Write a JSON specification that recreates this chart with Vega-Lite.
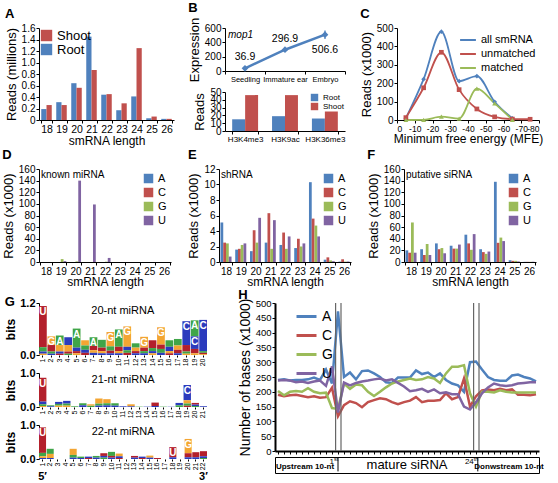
{
"$schema": "https://vega.github.io/schema/vega-lite/v6.json",
"padding": {"left": 2, "right": 2, "top": 2, "bottom": 0},
"background": "white",
"spacing": 2,
"resolve": {"scale": {"x": "independent", "y": "independent", "color": "independent", "shape": "independent", "xOffset": "independent"}, "legend": {"color": "independent", "shape": "independent"}, "axis": {"x": "independent", "y": "independent"}},
"config": {
  "font": "Liberation Sans",
  "view": {"stroke": null},
  "axis": {"grid": false, "domainColor": "#000", "tickColor": "#000", "labelColor": "#000", "titleColor": "#000", "labelFont": "Liberation Sans", "titleFont": "Liberation Sans", "labelFontSize": 10, "titleFontSize": 12, "titleFontWeight": "normal", "tickSize": 3, "labelPadding": 1, "titlePadding": 3, "labelOverlap": false},
  "legend": {"labelFont": "Liberation Sans", "labelColor": "#000", "labelFontSize": 11, "padding": 0, "rowPadding": 1, "symbolType": "square", "title": null},
  "title": {"fontSize": 13, "fontWeight": "bold", "anchor": "start", "frame": "bounds", "color": "#000", "offset": 2, "font": "Liberation Sans"}
},
"datasets": {
  "a": [
    {"len":18,"t":"Root","v":0.19},{"len":18,"t":"Shoot","v":0.26},
    {"len":19,"t":"Root","v":0.31},{"len":19,"t":"Shoot","v":0.26},
    {"len":20,"t":"Root","v":0.64},{"len":20,"t":"Shoot","v":0.56},
    {"len":21,"t":"Root","v":1.45},{"len":21,"t":"Shoot","v":0.87},
    {"len":22,"t":"Root","v":0.44},{"len":22,"t":"Shoot","v":0.45},
    {"len":23,"t":"Root","v":0.17},{"len":23,"t":"Shoot","v":0.29},
    {"len":24,"t":"Root","v":0.41},{"len":24,"t":"Shoot","v":1.25},
    {"len":25,"t":"Root","v":0.03},{"len":25,"t":"Shoot","v":0.06},
    {"len":26,"t":"Root","v":0.02},{"len":26,"t":"Shoot","v":0.02}
  ],
  "expr": [
    {"stage":"Seedling","v":36.9,"lo":28,"hi":46},
    {"stage":"Immature ear","v":296.9,"lo":276,"hi":318},
    {"stage":"Embryo","v":506.6,"lo":448,"hi":565}
  ],
  "hist": [
    {"m":"H3K4me3","t":"Root","v":15},{"m":"H3K4me3","t":"Shoot","v":46},
    {"m":"H3K9ac","t":"Root","v":19},{"m":"H3K9ac","t":"Shoot","v":46},
    {"m":"H3K36me3","t":"Root","v":16},{"m":"H3K36me3","t":"Shoot","v":25}
  ],
  "mfe": [
    {"e":-5,"s":"all smRNA","v":9},{"e":-15,"s":"all smRNA","v":222},{"e":-25,"s":"all smRNA","v":480},{"e":-35,"s":"all smRNA","v":211},{"e":-45,"s":"all smRNA","v":238},{"e":-55,"s":"all smRNA","v":99},{"e":-65,"s":"all smRNA","v":9},
    {"e":-5,"s":"unmatched","v":13},{"e":-15,"s":"unmatched","v":175},{"e":-25,"s":"unmatched","v":368},{"e":-35,"s":"unmatched","v":165},{"e":-45,"s":"unmatched","v":60},{"e":-55,"s":"unmatched","v":17},{"e":-65,"s":"unmatched","v":5},{"e":-75,"s":"unmatched","v":4},
    {"e":-5,"s":"matched","v":0},{"e":-15,"s":"matched","v":1},{"e":-25,"s":"matched","v":18},{"e":-35,"s":"matched","v":8},{"e":-45,"s":"matched","v":170},{"e":-55,"s":"matched","v":90},{"e":-65,"s":"matched","v":1}
  ],
  "d": [
    {"len":18,"A":0,"C":0,"G":0,"U":0},{"len":19,"A":0,"C":0,"G":5,"U":1.5},{"len":20,"A":0,"C":0,"G":1,"U":140},
    {"len":21,"A":0,"C":0,"G":0,"U":99},{"len":22,"A":0,"C":0,"G":0.5,"U":7},{"len":23,"A":0,"C":0,"G":0,"U":0},
    {"len":24,"A":0,"C":0,"G":0,"U":0},{"len":25,"A":0,"C":0,"G":0,"U":0},{"len":26,"A":0,"C":0,"G":0,"U":0}
  ],
  "e": [
    {"len":18,"A":5.1,"C":2.5,"G":2.4,"U":0.7},{"len":19,"A":1.6,"C":1.7,"G":2.2,"U":2.4},{"len":20,"A":1.4,"C":4.1,"G":2.5,"U":5.7},
    {"len":21,"A":2.5,"C":6.3,"G":1.7,"U":5.4},{"len":22,"A":2.2,"C":3.8,"G":1.7,"U":3.3},{"len":23,"A":1.8,"C":3.0,"G":2.0,"U":2.4},
    {"len":24,"A":10.3,"C":5.6,"G":4.7,"U":3.3},{"len":25,"A":0.3,"C":0.6,"G":0.2,"U":0.1},{"len":26,"A":0.05,"C":0.35,"G":0.05,"U":0.05}
  ],
  "f": [
    {"len":18,"A":20,"C":16,"G":68,"U":16},{"len":19,"A":22,"C":12,"G":31,"U":12},{"len":20,"A":32,"C":22,"G":24,"U":15},
    {"len":21,"A":28,"C":23,"G":23,"U":30},{"len":22,"A":47,"C":32,"G":21,"U":48},{"len":23,"A":22,"C":17,"G":14,"U":18},
    {"len":24,"A":138,"C":33,"G":42,"U":36},{"len":25,"A":3,"C":2,"G":2,"U":1},{"len":26,"A":0.3,"C":0.3,"G":0.3,"U":0.3}
  ],
  "g20": [
    {"p":1,"b":"U","h":0.95},{"p":1,"b":"A","h":0.1},{"p":1,"b":"C","h":0.05},{"p":1,"b":"G","h":0.03},
    {"p":2,"b":"G","h":0.2},{"p":2,"b":"U","h":0.15},{"p":2,"b":"A","h":0.05},{"p":2,"b":"C","h":0.03},
    {"p":3,"b":"A","h":0.22},{"p":3,"b":"G","h":0.15},{"p":3,"b":"C","h":0.05},{"p":3,"b":"U","h":0.03},
    {"p":4,"b":"C","h":0.18},{"p":4,"b":"G","h":0.15},{"p":4,"b":"U","h":0.05},{"p":4,"b":"A","h":0.03},
    {"p":5,"b":"A","h":0.44},{"p":5,"b":"C","h":0.08},{"p":5,"b":"U","h":0.05},{"p":5,"b":"G","h":0.04},
    {"p":6,"b":"G","h":0.12},{"p":6,"b":"A","h":0.1},{"p":6,"b":"C","h":0.07},{"p":6,"b":"U","h":0.05},
    {"p":7,"b":"A","h":0.2},{"p":7,"b":"U","h":0.1},{"p":7,"b":"G","h":0.06},{"p":7,"b":"C","h":0.05},
    {"p":8,"b":"A","h":0.18},{"p":8,"b":"U","h":0.08},{"p":8,"b":"G","h":0.05},{"p":8,"b":"C","h":0.04},
    {"p":9,"b":"G","h":0.33},{"p":9,"b":"A","h":0.1},{"p":9,"b":"U","h":0.06},{"p":9,"b":"C","h":0.04},
    {"p":10,"b":"A","h":0.4},{"p":10,"b":"U","h":0.1},{"p":10,"b":"G","h":0.05},{"p":10,"b":"C","h":0.04},
    {"p":11,"b":"G","h":0.47},{"p":11,"b":"C","h":0.08},{"p":11,"b":"A","h":0.06},{"p":11,"b":"U","h":0.05},
    {"p":12,"b":"A","h":0.1},{"p":12,"b":"G","h":0.08},{"p":12,"b":"U","h":0.05},{"p":12,"b":"C","h":0.04},
    {"p":13,"b":"G","h":0.25},{"p":13,"b":"U","h":0.08},{"p":13,"b":"A","h":0.05},{"p":13,"b":"C","h":0.04},
    {"p":14,"b":"U","h":0.18},{"p":14,"b":"A","h":0.07},{"p":14,"b":"C","h":0.05},{"p":14,"b":"G","h":0.04},
    {"p":15,"b":"G","h":0.4},{"p":15,"b":"U","h":0.1},{"p":15,"b":"A","h":0.09},{"p":15,"b":"C","h":0.05},
    {"p":16,"b":"A","h":0.15},{"p":16,"b":"C","h":0.1},{"p":16,"b":"G","h":0.05},{"p":16,"b":"U","h":0.04},
    {"p":17,"b":"A","h":0.15},{"p":17,"b":"G","h":0.1},{"p":17,"b":"U","h":0.08},{"p":17,"b":"C","h":0.04},
    {"p":18,"b":"C","h":0.55},{"p":18,"b":"U","h":0.15},{"p":18,"b":"A","h":0.05},{"p":18,"b":"G","h":0.03},
    {"p":19,"b":"A","h":0.37},{"p":19,"b":"C","h":0.29},{"p":19,"b":"U","h":0.1},{"p":19,"b":"G","h":0.04},
    {"p":20,"b":"C","h":0.72},{"p":20,"b":"A","h":0.04},{"p":20,"b":"U","h":0.03},{"p":20,"b":"G","h":0.02}
  ],
  "g21": [
    {"p":1,"b":"U","h":0.7},{"p":1,"b":"C","h":0.08},{"p":1,"b":"A","h":0.05},{"p":1,"b":"G","h":0.03},
    {"p":2,"b":"A","h":0.03},{"p":2,"b":"C","h":0.02},
    {"p":3,"b":"C","h":0.06},{"p":3,"b":"A","h":0.05},{"p":3,"b":"G","h":0.04},
    {"p":4,"b":"C","h":0.08},{"p":4,"b":"A","h":0.06},{"p":4,"b":"G","h":0.04},
    {"p":5,"b":"A","h":0.02},
    {"p":6,"b":"A","h":0.06},{"p":6,"b":"C","h":0.05},
    {"p":7,"b":"A","h":0.04},{"p":7,"b":"G","h":0.04},
    {"p":8,"b":"G","h":0.15},{"p":8,"b":"A","h":0.06},{"p":8,"b":"C","h":0.04},
    {"p":9,"b":"G","h":0.12},{"p":9,"b":"A","h":0.06},{"p":9,"b":"C","h":0.05},
    {"p":10,"b":"A","h":0.07},{"p":10,"b":"C","h":0.04},
    {"p":11,"b":"C","h":0.02},
    {"p":12,"b":"G","h":0.06},{"p":12,"b":"C","h":0.02},
    {"p":13,"b":"A","h":0.01},
    {"p":14,"b":"C","h":0.01},
    {"p":15,"b":"U","h":0.1},{"p":15,"b":"C","h":0.03},
    {"p":16,"b":"A","h":0.01},
    {"p":17,"b":"C","h":0.01},
    {"p":18,"b":"C","h":0.07},{"p":18,"b":"A","h":0.05},
    {"p":19,"b":"C","h":0.45},{"p":19,"b":"G","h":0.1},{"p":19,"b":"A","h":0.06},{"p":19,"b":"U","h":0.04},
    {"p":20,"b":"U","h":0.05},{"p":20,"b":"C","h":0.04},{"p":20,"b":"A","h":0.03},
    {"p":21,"b":"C","h":0.02}
  ],
  "g22": [
    {"p":1,"b":"U","h":0.75},{"p":1,"b":"A","h":0.1},{"p":1,"b":"G","h":0.05},{"p":1,"b":"C","h":0.03},
    {"p":2,"b":"A","h":0.15},{"p":2,"b":"G","h":0.12},{"p":2,"b":"C","h":0.03},
    {"p":5,"b":"G","h":0.18},{"p":5,"b":"A","h":0.08},{"p":5,"b":"C","h":0.04},
    {"p":6,"b":"A","h":0.04},{"p":6,"b":"C","h":0.03},
    {"p":7,"b":"C","h":0.04},{"p":7,"b":"U","h":0.03},
    {"p":8,"b":"A","h":0.05},{"p":8,"b":"C","h":0.04},
    {"p":9,"b":"U","h":0.08},{"p":9,"b":"C","h":0.05},{"p":9,"b":"A","h":0.04},
    {"p":10,"b":"A","h":0.12},{"p":10,"b":"U","h":0.05},{"p":10,"b":"C","h":0.04},
    {"p":11,"b":"G","h":0.08},{"p":11,"b":"C","h":0.05},{"p":11,"b":"U","h":0.03},
    {"p":13,"b":"U","h":0.05},{"p":13,"b":"C","h":0.04},
    {"p":14,"b":"C","h":0.04},{"p":14,"b":"U","h":0.03},
    {"p":15,"b":"G","h":0.06},{"p":15,"b":"C","h":0.04},
    {"p":16,"b":"U","h":0.03},
    {"p":18,"b":"U","h":0.3},{"p":18,"b":"C","h":0.05},
    {"p":20,"b":"G","h":0.42},{"p":20,"b":"U","h":0.12},{"p":20,"b":"C","h":0.05},
    {"p":21,"b":"U","h":0.15},{"p":21,"b":"C","h":0.05},
    {"p":22,"b":"U","h":0.15},{"p":22,"b":"C","h":0.05},{"p":22,"b":"A","h":0.03}
  ],
  "h": [
    {"i":1,"A":240,"C":190,"G":203,"U":238},{"i":2,"A":242,"C":185,"G":188,"U":240},{"i":3,"A":238,"C":188,"G":200,"U":238},
    {"i":4,"A":240,"C":190,"G":203,"U":232},{"i":5,"A":240,"C":186,"G":200,"U":235},{"i":6,"A":242,"C":182,"G":212,"U":230},
    {"i":7,"A":248,"C":185,"G":200,"U":235},{"i":8,"A":240,"C":180,"G":195,"U":238},{"i":9,"A":275,"C":182,"G":197,"U":220},
    {"i":10,"A":228,"C":214,"G":145,"U":286},{"i":11,"A":472,"C":118,"G":142,"U":130},{"i":12,"A":250,"C":155,"G":228,"U":231},
    {"i":13,"A":265,"C":168,"G":210,"U":222},{"i":14,"A":242,"C":162,"G":225,"U":230},{"i":15,"A":270,"C":148,"G":222,"U":235},
    {"i":16,"A":272,"C":165,"G":200,"U":238},{"i":17,"A":262,"C":172,"G":186,"U":242},{"i":18,"A":250,"C":178,"G":200,"U":245},
    {"i":19,"A":232,"C":175,"G":215,"U":238},{"i":20,"A":230,"C":165,"G":228,"U":242},{"i":21,"A":248,"C":158,"G":235,"U":230},
    {"i":22,"A":248,"C":165,"G":240,"U":218},{"i":23,"A":248,"C":170,"G":245,"U":202},{"i":24,"A":272,"C":182,"G":240,"U":205},
    {"i":25,"A":260,"C":165,"G":242,"U":210},{"i":26,"A":265,"C":170,"G":250,"U":200},{"i":27,"A":250,"C":170,"G":245,"U":208},
    {"i":28,"A":262,"C":172,"G":230,"U":195},{"i":29,"A":240,"C":195,"G":262,"U":198},{"i":30,"A":228,"C":175,"G":285,"U":192},
    {"i":31,"A":222,"C":182,"G":285,"U":192},{"i":32,"A":200,"C":245,"G":290,"U":150},{"i":33,"A":300,"C":150,"G":195,"U":140},
    {"i":34,"A":302,"C":185,"G":150,"U":165},{"i":35,"A":275,"C":205,"G":200,"U":195},{"i":36,"A":250,"C":208,"G":200,"U":215},
    {"i":37,"A":240,"C":205,"G":198,"U":228},{"i":38,"A":237,"C":210,"G":205,"U":222},{"i":39,"A":237,"C":205,"G":200,"U":220},
    {"i":40,"A":255,"C":208,"G":198,"U":222},{"i":41,"A":258,"C":190,"G":198,"U":228},{"i":42,"A":250,"C":190,"G":198,"U":230},
    {"i":43,"A":245,"C":188,"G":198,"U":232},{"i":44,"A":235,"C":192,"G":198,"U":232}
  ]
},
"vconcat": [
  {"spacing": 14,
   "resolve": {"scale": {"x": "independent", "y": "independent", "color": "independent", "shape": "independent", "xOffset": "independent"}, "legend": {"color": "independent", "shape": "independent"}, "axis": {"x": "independent", "y": "independent"}},
   "hconcat": [
    {
      "title": {"text": "A"},
      "width": 135, "height": 92,
      "data": {"name": "a"},
      "mark": {"type": "bar"},
      "encoding": {
        "x": {"field": "len", "type": "ordinal", "scale": {"paddingInner": 0.3, "paddingOuter": 0.15}, "axis": {"title": "smRNA length", "labelAngle": 0, "tickBand": "extent", "labelFontSize": 10.5, "titlePadding": 1}},
        "xOffset": {"field": "t", "type": "nominal", "sort": ["Root", "Shoot"]},
        "y": {"field": "v", "type": "quantitative", "scale": {"domain": [0, 1.6]}, "axis": {"values": [0,0.2,0.4,0.6,0.8,1,1.2,1.4,1.6], "labelExpr": "datum.value == 0 ? '0' : format(datum.value, '.1f')", "title": "Reads (millions)", "titleFontSize": 13}},
        "color": {"field": "t", "type": "nominal", "scale": {"domain": ["Shoot", "Root"], "range": ["#C0504D", "#4F81BD"]}, "legend": {"orient": "top-left", "labelFontSize": 13, "symbolSize": 130, "offset": 1, "rowPadding": 0}}
      }
    },
    {
      "title": {"text": "B"},
      "spacing": 4,
      "resolve": {"scale": {"x": "independent", "y": "independent", "color": "independent", "xOffset": "independent"}, "legend": {"color": "independent"}, "axis": {"x": "independent", "y": "independent"}},
      "vconcat": [
        {
          "width": 120, "height": 43,
          "data": {"name": "expr"},
          "encoding": {
            "x": {"field": "stage", "type": "nominal", "sort": ["Seedling", "Immature ear", "Embryo"], "scale": {"type": "band", "paddingInner": 0, "paddingOuter": 0}, "bandPosition": 0.5, "axis": {"title": null, "labelAngle": 0, "labelFontSize": 7.5, "tickBand": "extent"}}
          },
          "layer": [
            {"mark": {"type": "rule", "color": "#4F81BD", "strokeWidth": 1.3}, "encoding": {"y": {"field": "lo", "type": "quantitative", "scale": {"domain": [0, 600]}, "axis": {"values": [0,200,400,600], "title": "Expression", "titleFontSize": 13}}, "y2": {"field": "hi"}}},
            {"mark": {"type": "line", "color": "#4F81BD", "strokeWidth": 2.5, "point": {"shape": "diamond", "filled": true, "size": 45, "color": "#4F81BD"}}, "encoding": {"y": {"field": "v", "type": "quantitative", "axis": {"values": [0,200,400,600], "title": "Expression", "titleFontSize": 13}}}},
            {"transform": [{"filter": "datum.stage != 'Embryo'"}], "mark": {"type": "text", "dy": -11, "fontSize": 10.5}, "encoding": {"y": {"field": "v", "type": "quantitative", "axis": {"values": [0,200,400,600], "title": "Expression", "titleFontSize": 13}}, "text": {"field": "v", "type": "quantitative", "format": ".1f"}}},
            {"transform": [{"filter": "datum.stage == 'Embryo'"}], "mark": {"type": "text", "dy": 15, "fontSize": 10.5}, "encoding": {"y": {"field": "v", "type": "quantitative", "axis": {"values": [0,200,400,600], "title": "Expression", "titleFontSize": 13}}, "text": {"field": "v", "type": "quantitative", "format": ".1f"}}},
            {"data": {"values": [{"lab": "mop1"}]}, "mark": {"type": "text", "align": "left", "baseline": "top", "fontStyle": "italic", "fontSize": 10, "dx": -17, "dy": 2}, "encoding": {"x": {"datum": "Seedling", "type": "nominal"}, "y": {"datum": 600, "type": "quantitative", "axis": {"values": [0,200,400,600], "title": "Expression", "titleFontSize": 13}}, "text": {"field": "lab"}}}
          ]
        },
        {
          "width": 120, "height": 39,
          "data": {"name": "hist"},
          "mark": {"type": "bar"},
          "encoding": {
            "x": {"field": "m", "type": "nominal", "sort": ["H3K4me3", "H3K9ac", "H3K36me3"], "scale": {"paddingInner": 0.35, "paddingOuter": 0.18}, "axis": {"title": null, "labelAngle": 0, "labelFontSize": 8, "tickBand": "extent"}},
            "xOffset": {"field": "t", "type": "nominal", "sort": ["Root", "Shoot"]},
            "y": {"field": "v", "type": "quantitative", "scale": {"domain": [0, 50]}, "axis": {"values": [0,10,20,30,40,50], "title": "Reads", "titleFontSize": 13}},
            "color": {"field": "t", "type": "nominal", "scale": {"domain": ["Root", "Shoot"], "range": ["#4F81BD", "#C0504D"]}, "legend": {"orient": "top-right", "labelFontSize": 8, "symbolSize": 55, "offset": 1, "rowPadding": 0}}
          }
        }
      ]
    },
    {
      "title": {"text": "C"},
      "width": 142, "height": 92,
      "data": {"name": "mfe"},
      "encoding": {
        "x": {"field": "e", "type": "quantitative", "scale": {"domain": [0, -80], "nice": false}, "axis": {"values": [0,-10,-20,-30,-40,-50,-60,-70,-80], "labelExpr": "datum.value == 0 ? '0' : '-' + abs(datum.value)", "title": "Minimum free energy (MFE)", "labelFontSize": 8.5, "titlePadding": 1}},
        "y": {"field": "v", "type": "quantitative", "scale": {"domain": [0, 500]}, "axis": {"values": [0,100,200,300,400,500], "title": "Reads (x1000)", "titleFontSize": 13}}
      },
      "layer": [
        {"mark": {"type": "line", "interpolate": "monotone", "strokeWidth": 1.8},
         "encoding": {"order": {"field": "e", "sort": "descending"},
           "color": {"field": "s", "type": "nominal", "scale": {"domain": ["all smRNA", "unmatched", "matched"], "range": ["#4F81BD", "#C0504D", "#9BBB59"]}, "legend": {"orient": "top-right", "symbolType": "stroke", "symbolStrokeWidth": 2, "symbolSize": 250, "labelFontSize": 11, "offset": 3, "rowPadding": 0}}}},
        {"transform": [{"filter": "datum.s == 'all smRNA'"}], "mark": {"type": "point", "filled": true, "size": 22, "opacity": 1, "shape": "diamond", "color": "#4F81BD"}},
        {"transform": [{"filter": "datum.s == 'unmatched'"}], "mark": {"type": "point", "filled": true, "size": 22, "opacity": 1, "shape": "square", "color": "#C0504D"}},
        {"transform": [{"filter": "datum.s == 'matched'"}], "mark": {"type": "point", "filled": true, "size": 24, "opacity": 1, "shape": "triangle-up", "color": "#9BBB59"}}
      ]
    }
  ]},
  {"spacing": 16,
   "resolve": {"scale": {"x": "independent", "y": "independent", "color": "independent", "xOffset": "independent"}, "legend": {"color": "independent"}, "axis": {"x": "independent", "y": "independent"}},
   "hconcat": [
    {
      "title": {"text": "D"},
      "width": 132, "height": 93,
      "layer": [
        {"data": {"name": "d"}, "transform": [{"fold": ["A", "C", "G", "U"], "as": ["b", "v"]}], "mark": {"type": "bar"},
         "encoding": {
           "x": {"field": "len", "type": "ordinal", "scale": {"paddingInner": 0.25, "paddingOuter": 0.1}, "axis": {"title": "smRNA length", "labelAngle": 0, "tickBand": "extent", "labelFontSize": 10, "titlePadding": 0}},
           "xOffset": {"field": "b", "type": "nominal", "sort": ["A", "C", "G", "U"]},
           "y": {"field": "v", "type": "quantitative", "scale": {"domain": [0, 160]}, "axis": {"values": [0,20,40,60,80,100,120,140,160], "title": "Reads (x1000)", "titleFontSize": 13}},
           "color": {"field": "b", "type": "nominal", "scale": {"domain": ["A", "C", "G", "U"], "range": ["#4F81BD", "#C0504D", "#9BBB59", "#8064A2"]}, "legend": {"orient": "top-right", "labelFontSize": 11, "symbolSize": 90, "offset": 4, "rowPadding": 2}}
         }},
        {"data": {"values": [{"lab": "known miRNA"}]}, "mark": {"type": "text", "align": "left", "baseline": "top", "fontSize": 10, "dx": -5, "dy": 1}, "encoding": {"x": {"datum": 18, "type": "ordinal"}, "y": {"datum": 160, "type": "quantitative", "axis": {"values": [0,20,40,60,80,100,120,140,160], "title": "Reads (x1000)", "titleFontSize": 13}}, "text": {"field": "lab"}}}
      ]
    },
    {
      "title": {"text": "E"},
      "width": 132, "height": 93,
      "layer": [
        {"data": {"name": "e"}, "transform": [{"fold": ["A", "C", "G", "U"], "as": ["b", "v"]}], "mark": {"type": "bar"},
         "encoding": {
           "x": {"field": "len", "type": "ordinal", "scale": {"paddingInner": 0.25, "paddingOuter": 0.1}, "axis": {"title": "smRNA length", "labelAngle": 0, "tickBand": "extent", "labelFontSize": 10, "titlePadding": 0}},
           "xOffset": {"field": "b", "type": "nominal", "sort": ["A", "C", "G", "U"]},
           "y": {"field": "v", "type": "quantitative", "scale": {"domain": [0, 12]}, "axis": {"values": [0,2,4,6,8,10,12], "title": "Reads (x1000)", "titleFontSize": 13}},
           "color": {"field": "b", "type": "nominal", "scale": {"domain": ["A", "C", "G", "U"], "range": ["#4F81BD", "#C0504D", "#9BBB59", "#8064A2"]}, "legend": {"orient": "top-right", "labelFontSize": 11, "symbolSize": 90, "offset": 4, "rowPadding": 2}}
         }},
        {"data": {"values": [{"lab": "shRNA"}]}, "mark": {"type": "text", "align": "left", "baseline": "top", "fontSize": 10, "dx": -5, "dy": 1}, "encoding": {"x": {"datum": 18, "type": "ordinal"}, "y": {"datum": 12, "type": "quantitative", "axis": {"values": [0,2,4,6,8,10,12], "title": "Reads (x1000)", "titleFontSize": 13}}, "text": {"field": "lab"}}}
      ]
    },
    {
      "title": {"text": "F"},
      "width": 132, "height": 93,
      "layer": [
        {"data": {"name": "f"}, "transform": [{"fold": ["A", "C", "G", "U"], "as": ["b", "v"]}], "mark": {"type": "bar"},
         "encoding": {
           "x": {"field": "len", "type": "ordinal", "scale": {"paddingInner": 0.25, "paddingOuter": 0.1}, "axis": {"title": "smRNA length", "labelAngle": 0, "tickBand": "extent", "labelFontSize": 10, "titlePadding": 0}},
           "xOffset": {"field": "b", "type": "nominal", "sort": ["A", "C", "G", "U"]},
           "y": {"field": "v", "type": "quantitative", "scale": {"domain": [0, 160]}, "axis": {"values": [0,20,40,60,80,100,120,140,160], "title": "Reads (x1000)", "titleFontSize": 13}},
           "color": {"field": "b", "type": "nominal", "scale": {"domain": ["A", "C", "G", "U"], "range": ["#4F81BD", "#C0504D", "#9BBB59", "#8064A2"]}, "legend": {"orient": "top-right", "labelFontSize": 11, "symbolSize": 90, "offset": 4, "rowPadding": 2}}
         }},
        {"data": {"values": [{"lab": "putative siRNA"}]}, "mark": {"type": "text", "align": "left", "baseline": "top", "fontSize": 10, "dx": -5, "dy": 1}, "encoding": {"x": {"datum": 18, "type": "ordinal"}, "y": {"datum": 160, "type": "quantitative", "axis": {"values": [0,20,40,60,80,100,120,140,160], "title": "Reads (x1000)", "titleFontSize": 13}}, "text": {"field": "lab"}}}
      ]
    }
  ]},
  {"spacing": 30,
   "resolve": {"scale": {"x": "independent", "y": "independent", "color": "independent"}, "legend": {"color": "independent"}, "axis": {"x": "independent", "y": "independent"}},
   "hconcat": [
    {
      "title": {"text": "G", "offset": -12},
      "spacing": 1,
      "resolve": {"scale": {"x": "independent", "y": "independent"}, "axis": {"x": "independent", "y": "independent"}},
      "vconcat": [
        {
          "width": 168, "height": 52,
          "layer": [
            {"data": {"name": "g20"}, "transform": [{"stack": "h", "groupby": ["p"], "sort": [{"field": "h", "order": "ascending"}], "as": ["y0", "y1"]}],
             "mark": {"type": "bar"},
             "encoding": {
               "x": {"field": "p", "type": "ordinal", "scale": {"domain": [1,2,3,4,5,6,7,8,9,10,11,12,13,14,15,16,17,18,19,20], "paddingInner": 0.08, "paddingOuter": 0}, "axis": {"title": null, "labelAngle": -90, "labelAlign": "right", "labelBaseline": "middle", "labelFontSize": 7, "domain": false, "tickSize": 2, "labelPadding": 1}},
               "y": {"field": "y0", "type": "quantitative", "scale": {"domain": [0, 1.2]}, "axis": {"values": [0, 1.2], "title": "bits", "titleFontWeight": "bold", "labelFontWeight": "bold", "labelFontSize": 11, "titlePadding": 2}},
               "y2": {"field": "y1"},
               "color": {"field": "b", "type": "nominal", "scale": {"domain": ["A", "C", "G", "U"], "range": ["#3FA548", "#2B3BBD", "#F3A532", "#B3202C"]}, "legend": null}
             }},
            {"data": {"name": "g20"}, "transform": [{"stack": "h", "groupby": ["p"], "sort": [{"field": "h", "order": "ascending"}], "as": ["y0", "y1"]}, {"filter": "datum.h >= 0.2"}],
             "mark": {"type": "text", "baseline": "top", "dy": 1, "fontSize": 10, "fontWeight": "bold", "color": "white"},
             "encoding": {"x": {"field": "p", "type": "ordinal"}, "y": {"field": "y1", "type": "quantitative", "axis": {"values": [0, 1.2], "title": "bits", "titleFontWeight": "bold", "labelFontWeight": "bold", "labelFontSize": 11, "titlePadding": 2}}, "text": {"field": "b"}}},
            {"data": {"values": [{"p": 10, "t": "20-nt miRNA"}]},
             "mark": {"type": "text", "baseline": "top", "dy": 2, "dx": 4, "fontSize": 11},
             "encoding": {"x": {"field": "p", "type": "ordinal"}, "y": {"datum": 1.2, "type": "quantitative", "axis": {"values": [0, 1.2], "title": "bits", "titleFontWeight": "bold", "labelFontWeight": "bold", "labelFontSize": 11, "titlePadding": 2}}, "text": {"field": "t"}}}
          ]
        },
        {
          "width": 168, "height": 34,
          "layer": [
            {"data": {"name": "g21"}, "transform": [{"stack": "h", "groupby": ["p"], "sort": [{"field": "h", "order": "ascending"}], "as": ["y0", "y1"]}],
             "mark": {"type": "bar"},
             "encoding": {
               "x": {"field": "p", "type": "ordinal", "scale": {"domain": [1,2,3,4,5,6,7,8,9,10,11,12,13,14,15,16,17,18,19,20,21], "paddingInner": 0.08, "paddingOuter": 0}, "axis": {"title": null, "labelAngle": -90, "labelAlign": "right", "labelBaseline": "middle", "labelFontSize": 7, "domain": false, "tickSize": 2, "labelPadding": 1}},
               "y": {"field": "y0", "type": "quantitative", "scale": {"domain": [0, 1]}, "axis": {"values": [0, 1], "title": "bits", "titleFontWeight": "bold", "labelFontWeight": "bold", "labelFontSize": 11, "titlePadding": 2}},
               "y2": {"field": "y1"},
               "color": {"field": "b", "type": "nominal", "scale": {"domain": ["A", "C", "G", "U"], "range": ["#3FA548", "#2B3BBD", "#F3A532", "#B3202C"]}, "legend": null}
             }},
            {"data": {"name": "g21"}, "transform": [{"stack": "h", "groupby": ["p"], "sort": [{"field": "h", "order": "ascending"}], "as": ["y0", "y1"]}, {"filter": "datum.h >= 0.3"}],
             "mark": {"type": "text", "baseline": "top", "dy": 1, "fontSize": 10, "fontWeight": "bold", "color": "white"},
             "encoding": {"x": {"field": "p", "type": "ordinal"}, "y": {"field": "y1", "type": "quantitative", "axis": {"values": [0, 1], "title": "bits", "titleFontWeight": "bold", "labelFontWeight": "bold", "labelFontSize": 11, "titlePadding": 2}}, "text": {"field": "b"}}},
            {"data": {"values": [{"p": 11, "t": "21-nt miRNA"}]},
             "mark": {"type": "text", "baseline": "top", "dy": 1, "fontSize": 11},
             "encoding": {"x": {"field": "p", "type": "ordinal"}, "y": {"datum": 1, "type": "quantitative", "axis": {"values": [0, 1], "title": "bits", "titleFontWeight": "bold", "labelFontWeight": "bold", "labelFontSize": 11, "titlePadding": 2}}, "text": {"field": "t"}}}
          ]
        },
        {
          "width": 168, "height": 34,
          "layer": [
            {"data": {"name": "g22"}, "transform": [{"stack": "h", "groupby": ["p"], "sort": [{"field": "h", "order": "ascending"}], "as": ["y0", "y1"]}],
             "mark": {"type": "bar"},
             "encoding": {
               "x": {"field": "p", "type": "ordinal", "scale": {"domain": [1,2,3,4,5,6,7,8,9,10,11,12,13,14,15,16,17,18,19,20,21,22], "paddingInner": 0.08, "paddingOuter": 0}, "axis": {"title": null, "labelAngle": -90, "labelAlign": "right", "labelBaseline": "middle", "labelFontSize": 7, "domain": false, "tickSize": 2, "labelPadding": 1}},
               "y": {"field": "y0", "type": "quantitative", "scale": {"domain": [0, 1]}, "axis": {"values": [0, 1], "title": "bits", "titleFontWeight": "bold", "labelFontWeight": "bold", "labelFontSize": 11, "titlePadding": 2}},
               "y2": {"field": "y1"},
               "color": {"field": "b", "type": "nominal", "scale": {"domain": ["A", "C", "G", "U"], "range": ["#3FA548", "#2B3BBD", "#F3A532", "#B3202C"]}, "legend": null}
             }},
            {"data": {"name": "g22"}, "transform": [{"stack": "h", "groupby": ["p"], "sort": [{"field": "h", "order": "ascending"}], "as": ["y0", "y1"]}, {"filter": "datum.h >= 0.3"}],
             "mark": {"type": "text", "baseline": "top", "dy": 1, "fontSize": 10, "fontWeight": "bold", "color": "white"},
             "encoding": {"x": {"field": "p", "type": "ordinal"}, "y": {"field": "y1", "type": "quantitative", "axis": {"values": [0, 1], "title": "bits", "titleFontWeight": "bold", "labelFontWeight": "bold", "labelFontSize": 11, "titlePadding": 2}}, "text": {"field": "b"}}},
            {"data": {"values": [{"p": 11, "t": "22-nt miRNA"}]},
             "mark": {"type": "text", "baseline": "top", "dy": 1, "dx": 4, "fontSize": 11},
             "encoding": {"x": {"field": "p", "type": "ordinal"}, "y": {"datum": 1, "type": "quantitative", "axis": {"values": [0, 1], "title": "bits", "titleFontWeight": "bold", "labelFontWeight": "bold", "labelFontSize": 11, "titlePadding": 2}}, "text": {"field": "t"}}},
            {"data": {"values": [{"p": 1, "t": "5′"}, {"p": 22, "t": "3′"}]},
             "mark": {"type": "text", "baseline": "top", "fontSize": 11, "fontWeight": "bold"},
             "encoding": {"x": {"field": "p", "type": "ordinal"}, "y": {"datum": -0.36, "type": "quantitative", "axis": {"values": [0, 1], "title": "bits", "titleFontWeight": "bold", "labelFontWeight": "bold", "labelFontSize": 11, "titlePadding": 2}}, "text": {"field": "t"}}}
          ]
        }
      ]
    },
    {
      "title": {"text": "H", "offset": -4},
      "spacing": 0,
      "resolve": {"scale": {"x": "independent", "y": "independent", "color": "independent"}, "legend": {"color": "independent"}, "axis": {"x": "independent", "y": "independent"}},
      "vconcat": [
        {
          "width": 264, "height": 148,
          "layer": [
            {"data": {"name": "h"}, "transform": [{"fold": ["A", "C", "G", "U"], "as": ["b", "v"]}],
             "mark": {"type": "line", "strokeWidth": 2.5},
             "encoding": {
               "x": {"field": "i", "type": "quantitative", "scale": {"domain": [0.5, 44.5], "nice": false}, "axis": {"values": [1,2,3,4,5,6,7,8,9,10,11,12,13,14,15,16,17,18,19,20,21,22,23,24,25,26,27,28,29,30,31,32,33,34,35,36,37,38,39,40,41,42,43,44], "labels": false, "title": null, "tickSize": 3, "domainWidth": 2}},
               "y": {"field": "v", "type": "quantitative", "scale": {"domain": [0, 500]}, "axis": {"values": [0,50,100,150,200,250,300,350,400,450,500], "title": "Number of bases (x1000)", "titleFontSize": 14, "labelFontSize": 9.5, "domainWidth": 2}},
               "color": {"field": "b", "type": "nominal", "scale": {"domain": ["A", "C", "G", "U"], "range": ["#4F81BD", "#C0504D", "#9BBB59", "#8064A2"]}, "legend": {"orient": "none", "legendX": 20, "legendY": 2, "symbolType": "stroke", "symbolStrokeWidth": 3, "symbolSize": 400, "labelFontSize": 14, "rowPadding": 0}}
             }},
            {"data": {"values": [{"x": 10.6}, {"x": 11.5}, {"x": 33.6}, {"x": 34.5}]},
             "mark": {"type": "rule", "color": "#666", "strokeWidth": 1.2},
             "encoding": {"x": {"field": "x", "type": "quantitative", "axis": {"values": [1,2,3,4,5,6,7,8,9,10,11,12,13,14,15,16,17,18,19,20,21,22,23,24,25,26,27,28,29,30,31,32,33,34,35,36,37,38,39,40,41,42,43,44], "labels": false, "title": null, "tickSize": 3, "domainWidth": 2}}, "y": {"datum": 0, "type": "quantitative", "axis": {"values": [0,50,100,150,200,250,300,350,400,450,500], "title": "Number of bases (x1000)", "titleFontSize": 14, "labelFontSize": 9.5, "domainWidth": 2}}, "y2": {"datum": 500}}}
          ]
        },
        {
          "width": 264, "height": 16,
          "view": {"stroke": "#000", "strokeWidth": 1},
          "layer": [
            {"data": {"values": [{"x": 5.5, "t": "Upstream 10-nt"}, {"x": 39.5, "t": "Donwstream 10-nt"}]},
             "mark": {"type": "text", "fontSize": 8, "baseline": "middle", "fontWeight": "bold"},
             "encoding": {"x": {"field": "x", "type": "quantitative", "scale": {"domain": [0.5, 44.5], "nice": false}, "axis": null}, "y": {"datum": 0.35, "type": "quantitative", "scale": {"domain": [0, 1]}, "axis": null}, "text": {"field": "t"}}},
            {"data": {"values": [{"x": 22.5, "t": "mature siRNA"}]},
             "mark": {"type": "text", "fontSize": 13, "baseline": "middle"},
             "encoding": {"x": {"field": "x", "type": "quantitative", "axis": null}, "y": {"datum": 0.5, "type": "quantitative", "axis": null}, "text": {"field": "t"}}},
            {"data": {"values": [{"x": 11, "n": "1"}, {"x": 34.3, "n": "24"}]},
             "mark": {"type": "text", "fontSize": 8, "baseline": "middle", "align": "right", "dx": -4},
             "encoding": {"x": {"field": "x", "type": "quantitative", "axis": null}, "y": {"datum": 0.7, "type": "quantitative", "axis": null}, "text": {"field": "n"}}},
            {"data": {"values": [{"x": 11, "n": "st"}, {"x": 34.3, "n": "th"}]},
             "mark": {"type": "text", "fontSize": 5.5, "baseline": "middle", "align": "left", "dx": -4},
             "encoding": {"x": {"field": "x", "type": "quantitative", "axis": null}, "y": {"datum": 0.9, "type": "quantitative", "axis": null}, "text": {"field": "n"}}},
            {"data": {"values": [{"x": 11}, {"x": 34.3}]},
             "mark": {"type": "rule", "color": "#000", "strokeWidth": 1},
             "encoding": {"x": {"field": "x", "type": "quantitative", "axis": null}, "y": {"datum": 0.1, "type": "quantitative", "axis": null}, "y2": {"datum": 1}}}
          ]
        }
      ]
    }
  ]}
]
}
